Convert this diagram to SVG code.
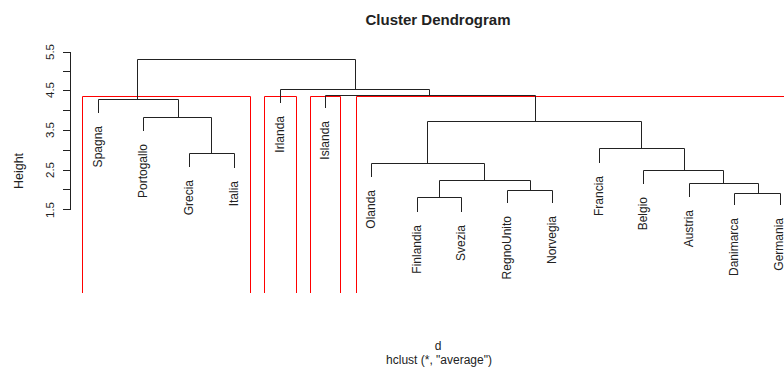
<svg xmlns="http://www.w3.org/2000/svg" width="784" height="369" viewBox="0 0 784 369">
<style>
.t{font-family:"Liberation Sans",Arial,sans-serif;fill:#222}
.lbl{font-size:12px;text-anchor:end}
.tree{fill:none;stroke:#222;stroke-width:1}
.box{fill:none;stroke:#ff0000;stroke-width:1}
.ax{fill:none;stroke:#222;stroke-width:1}
</style>
<rect width="784" height="369" fill="#fff"/>
<text class="t" x="438" y="25" font-size="15" font-weight="bold" text-anchor="middle">Cluster Dendrogram</text>
<g id="axis">
<path class="ax" d="M70.5,52 V210 M63,52.5 H70.5 M63,71.5 H70.5 M63,90.5 H70.5 M63,110.5 H70.5 M63,130.5 H70.5 M63,150.5 H70.5 M63,170.5 H70.5 M63,189.5 H70.5 M63,209.5 H70.5"/>
<text class="t" font-size="11.5" text-anchor="middle" transform="translate(53.5,52) rotate(-90)">5.5</text>
<text class="t" font-size="11.5" text-anchor="middle" transform="translate(53.5,90) rotate(-90)">4.5</text>
<text class="t" font-size="11.5" text-anchor="middle" transform="translate(53.5,130) rotate(-90)">3.5</text>
<text class="t" font-size="11.5" text-anchor="middle" transform="translate(53.5,170) rotate(-90)">2.5</text>
<text class="t" font-size="11.5" text-anchor="middle" transform="translate(53.5,210) rotate(-90)">1.5</text>
<text class="t" font-size="12.5" text-anchor="middle" transform="translate(23,171) rotate(-90)">Height</text>
</g>
<g id="clusters">
<path class="box" d="M82.5,293 V96.5 H250.5 V293"/>
<path class="box" d="M264.5,293 V96.5 H296.5 V293"/>
<path class="box" d="M310.5,293 V96.5 H340.5 V293"/>
<path class="box" d="M356.5,293 V96.5 H784"/>
</g>
<g id="connectors">
<path class="tree" d="M137.5,99 V59.5 H355.5 V89"/>
<path class="tree" d="M98.5,113 V99.5 H178.5 V117"/>
<path class="tree" d="M143.5,131 V117.5 H211.5 V153"/>
<path class="tree" d="M189.5,167 V153.5 H234.5 V168"/>
<path class="tree" d="M280.5,103 V89.5 H429.5 V95"/>
<path class="tree" d="M325.5,108 V95.5 H535.5 V121"/>
<path class="tree" d="M427.5,163 V121.5 H641.5 V148"/>
<path class="tree" d="M371.5,177 V163.5 H484.5 V180"/>
<path class="tree" d="M439.5,197 V180.5 H530.5 V190"/>
<path class="tree" d="M417.5,212 V197.5 H461.5 V212"/>
<path class="tree" d="M507.5,203 V190.5 H552.5 V203"/>
<path class="tree" d="M599.5,163 V148.5 H684.5 V170"/>
<path class="tree" d="M643.5,184 V170.5 H723.5 V183"/>
<path class="tree" d="M689.5,197 V183.5 H758.5 V193"/>
<path class="tree" d="M734.5,205 V193.5 H780.5 V205"/>
</g>
<g id="leaves">
<g id="n-Spagna"><text class="t lbl" transform="translate(102,126) rotate(-90)">Spagna</text></g>
<g id="n-Portogallo"><text class="t lbl" transform="translate(147,144) rotate(-90)">Portogallo</text></g>
<g id="n-Grecia"><text class="t lbl" transform="translate(193,180) rotate(-90)">Grecia</text></g>
<g id="n-Italia"><text class="t lbl" transform="translate(238,181) rotate(-90)">Italia</text></g>
<g id="n-Irlanda"><text class="t lbl" transform="translate(284,116) rotate(-90)">Irlanda</text></g>
<g id="n-Islanda"><text class="t lbl" transform="translate(329,121) rotate(-90)">Islanda</text></g>
<g id="n-Olanda"><text class="t lbl" transform="translate(375,190) rotate(-90)">Olanda</text></g>
<g id="n-Finlandia"><text class="t lbl" transform="translate(421,225) rotate(-90)">Finlandia</text></g>
<g id="n-Svezia"><text class="t lbl" transform="translate(465,225) rotate(-90)">Svezia</text></g>
<g id="n-RegnoUnito"><text class="t lbl" transform="translate(511,216) rotate(-90)">RegnoUnito</text></g>
<g id="n-Norvegia"><text class="t lbl" transform="translate(556,216) rotate(-90)">Norvegia</text></g>
<g id="n-Francia"><text class="t lbl" transform="translate(603,176) rotate(-90)">Francia</text></g>
<g id="n-Belgio"><text class="t lbl" transform="translate(647,197) rotate(-90)">Belgio</text></g>
<g id="n-Austria"><text class="t lbl" transform="translate(693,210) rotate(-90)">Austria</text></g>
<g id="n-Danimarca"><text class="t lbl" transform="translate(738,218) rotate(-90)">Danimarca</text></g>
<g id="n-Germania"><text class="t lbl" transform="translate(783,218) rotate(-90)">Germania</text></g>
</g>
<text class="t" x="438" y="350" font-size="12" text-anchor="middle">d</text>
<text class="t" x="439" y="364" font-size="12" text-anchor="middle">hclust (*, "average")</text>
</svg>
